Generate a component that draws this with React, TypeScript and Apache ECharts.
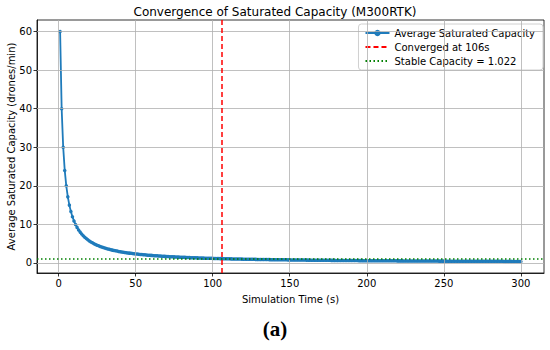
import React, { useEffect, useRef } from "react";
import * as echarts from "echarts";

const title = "Convergence of Saturated Capacity (M300RTK)";
const seriesName = "Average Saturated Capacity";
const convergedLabel = "Converged at 106s";
const stableLabel = "Stable Capacity = 1.022";
const convergedTime = 106;
const stableCapacity = 1.022;
const xTicks = [0, 50, 100, 150, 200, 250, 300];
const yTicks = [0, 10, 20, 30, 40, 50, 60];

const capacity = [
  60, 40, 30, 24, 20, 17.14, 15, 13.33, 12, 10.91,
  10, 9.23, 8.57, 8, 7.5, 7.06, 6.67, 6.32, 6, 5.71,
  5.45, 5.22, 5, 4.8, 4.62, 4.44, 4.29, 4.14, 4, 3.87,
  3.75, 3.64, 3.53, 3.43, 3.33, 3.24, 3.16, 3.08, 3, 2.93,
  2.86, 2.79, 2.73, 2.67, 2.61, 2.55, 2.5, 2.45, 2.4, 2.35,
  2.31, 2.26, 2.22, 2.18, 2.14, 2.11, 2.07, 2.03, 2, 1.97,
  1.94, 1.9, 1.88, 1.85, 1.82, 1.79, 1.76, 1.74, 1.71, 1.69,
  1.67, 1.64, 1.62, 1.6, 1.58, 1.56, 1.54, 1.52, 1.5, 1.48,
  1.46, 1.45, 1.43, 1.41, 1.4, 1.38, 1.36, 1.35, 1.33, 1.32,
  1.3, 1.29, 1.28, 1.26, 1.25, 1.24, 1.22, 1.21, 1.2, 1.19,
  1.18, 1.17, 1.15, 1.14, 1.13, 1.12, 1.11, 1.1, 1.09, 1.08,
  1.07, 1.06, 1.05, 1.04, 1.03, 1.03, 1.02, 1.01, 1, 0.99,
  0.98, 0.98, 0.97, 0.96, 0.95, 0.94, 0.94, 0.93, 0.92, 0.92,
  0.91, 0.9, 0.9, 0.89, 0.88, 0.88, 0.87, 0.86, 0.86, 0.85,
  0.85, 0.84, 0.83, 0.83, 0.82, 0.82, 0.81, 0.81, 0.8, 0.79,
  0.79, 0.78, 0.78, 0.77, 0.77, 0.76, 0.76, 0.75, 0.75, 0.75,
  0.74, 0.74, 0.73, 0.73, 0.72, 0.72, 0.71, 0.71, 0.71, 0.7,
  0.7, 0.69, 0.69, 0.69, 0.68, 0.68, 0.67, 0.67, 0.67, 0.66,
  0.66, 0.66, 0.65, 0.65, 0.65, 0.64, 0.64, 0.63, 0.63, 0.63,
  0.63, 0.62, 0.62, 0.62, 0.61, 0.61, 0.61, 0.6, 0.6, 0.6,
  0.59, 0.59, 0.59, 0.59, 0.58, 0.58, 0.58, 0.57, 0.57, 0.57,
  0.57, 0.56, 0.56, 0.56, 0.56, 0.55, 0.55, 0.55, 0.55, 0.54,
  0.54, 0.54, 0.54, 0.53, 0.53, 0.53, 0.53, 0.52, 0.52, 0.52,
  0.52, 0.52, 0.51, 0.51, 0.51, 0.51, 0.5, 0.5, 0.5, 0.5,
  0.5, 0.49, 0.49, 0.49, 0.49, 0.49, 0.48, 0.48, 0.48, 0.48,
  0.48, 0.47, 0.47, 0.47, 0.47, 0.47, 0.47, 0.46, 0.46, 0.46,
  0.46, 0.46, 0.45, 0.45, 0.45, 0.45, 0.45, 0.45, 0.44, 0.44,
  0.44, 0.44, 0.44, 0.44, 0.43, 0.43, 0.43, 0.43, 0.43, 0.43,
  0.43, 0.42, 0.42, 0.42, 0.42, 0.42, 0.42, 0.42, 0.41, 0.41,
  0.41, 0.41, 0.41, 0.41, 0.41, 0.4, 0.4, 0.4, 0.4, 0.4,
];

const FONT = "DejaVu Sans";

export default function App() {
  const ref = useRef<HTMLDivElement>(null);
  useEffect(() => {
    if (!ref.current) return;
    const chart = echarts.init(ref.current, undefined, { renderer: "svg" });
    const data = capacity.map((v, i) => [i + 1, v]);
    const gridLines = [
      ...xTicks.map((t) => ({ xAxis: t })),
      ...yTicks.map((t) => ({ yAxis: t })),
    ];
    chart.setOption({
      animation: false,
      backgroundColor: "#fff",
      textStyle: { fontFamily: FONT },
      title: {
        text: title,
        left: "center",
        top: 1,
        textStyle: { fontFamily: FONT, fontSize: 12, fontWeight: "normal", color: "#000" },
      },
      legend: {
        orient: "vertical",
        right: 7,
        top: 24,
        itemGap: 4,
        itemWidth: 24,
        itemHeight: 8,
        padding: [4, 8, 4, 6],
        backgroundColor: "rgba(255,255,255,0.85)",
        borderColor: "#d0d0d0",
        borderWidth: 1,
        borderRadius: 3,
        textStyle: { fontFamily: FONT, fontSize: 10, color: "#000" },
        data: [
          { name: seriesName },
          { name: convergedLabel, itemStyle: { opacity: 0 } },
          { name: stableLabel, itemStyle: { opacity: 0 } },
        ],
      },
      grid: {
        left: 37,
        right: 6,
        top: 20,
        bottom: 77,
        show: true,
        borderColor: "#000",
        borderWidth: 0.8,
        containLabel: false,
        outerBoundsMode: "none",
      },
      xAxis: {
        type: "value",
        min: -14,
        max: 315,
        name: "Simulation Time (s)",
        nameLocation: "middle",
        nameGap: 21,
        nameMoveOverlap: false,
        nameTextStyle: { fontFamily: FONT, fontSize: 10, color: "#000" },
        axisLine: { show: true, onZero: false, lineStyle: { color: "#000", width: 0.8 } },
        axisTick: { show: true, length: 3.5, customValues: xTicks, lineStyle: { color: "#000", width: 0.8 } },
        axisLabel: { customValues: xTicks, fontFamily: FONT, fontSize: 10, color: "#000", margin: 5 },
        splitLine: { show: false },
      },
      yAxis: {
        type: "value",
        min: -2.6,
        max: 63,
        name: "Average Saturated Capacity (drones/min)",
        nameLocation: "middle",
        nameGap: 21,
        nameMoveOverlap: false,
        nameTextStyle: { fontFamily: FONT, fontSize: 10, color: "#000" },
        axisLine: { show: true, onZero: false, lineStyle: { color: "#000", width: 0.8 } },
        axisTick: { show: true, length: 3.5, customValues: yTicks, lineStyle: { color: "#000", width: 0.8 } },
        axisLabel: { customValues: yTicks, fontFamily: FONT, fontSize: 10, color: "#000", margin: 5 },
        splitLine: { show: false },
      },
      series: [
        {
          name: "__grid",
          type: "line",
          data: [],
          silent: true,
          z: 1,
          markLine: {
            silent: true,
            symbol: "none",
            label: { show: false },
            lineStyle: { color: "#b0b0b0", type: "solid", width: 0.8 },
            data: gridLines,
          },
        },
        {
          name: seriesName,
          type: "line",
          data,
          symbol: "circle",
          symbolSize: 3.5,
          showAllSymbol: true,
          color: "#1f7bbb",
          lineStyle: { width: 1.8, color: "#1f7bbb" },
          itemStyle: { color: "#1f7bbb" },
          z: 3,
        },
        {
          name: convergedLabel,
          type: "line",
          data: [],
          symbol: "none",
          color: "#ff0000",
          lineStyle: { color: "#ff0000", type: [5, 3], width: 1.5 },
          markLine: {
            silent: true,
            symbol: "none",
            label: { show: false },
            lineStyle: { color: "#ff0000", type: [5, 3], width: 1.5 },
            data: [{ xAxis: convergedTime }],
          },
          z: 4,
        },
        {
          name: stableLabel,
          type: "line",
          data: [],
          symbol: "none",
          color: "#008000",
          lineStyle: { color: "#008000", type: [1.5, 2.5], width: 1.5 },
          markLine: {
            silent: true,
            symbol: "none",
            label: { show: false },
            lineStyle: { color: "#008000", type: [1.5, 2.5], width: 1.5 },
            data: [{ yAxis: stableCapacity }],
          },
          z: 4,
        },
      ],
      graphic: [
        {
          type: "text",
          left: "center",
          top: 318,
          style: {
            text: "(a)",
            font: "bold 21px 'Liberation Serif', serif",
            fill: "#000",
          },
        },
      ],
    });
    return () => chart.dispose();
  }, []);
  return (
    <div
      ref={ref}
      style={{ width: 550, height: 350, position: "fixed", left: 0, top: 0 }}
    />
  );
}
